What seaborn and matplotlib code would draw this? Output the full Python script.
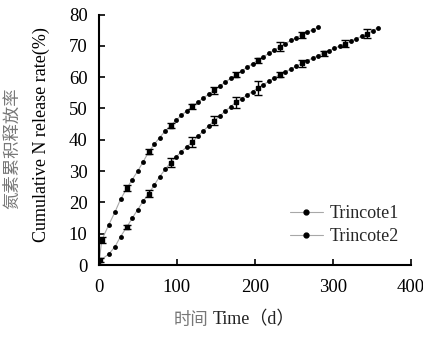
import matplotlib
matplotlib.use("Agg")
import matplotlib.pyplot as plt
from matplotlib.lines import Line2D
import pandas as pd
import seaborn as sns

# ---------------- data ----------------
series_names = ["Trincote1", "Trincote2"]

days1 = [0, 4, 13, 21, 28, 36, 43, 50, 57, 64, 71, 78, 85, 92, 99, 106, 113,
         120, 127, 134, 141, 148, 155, 162, 169, 176, 183, 190, 197, 204, 211,
         218, 225, 232, 239, 246, 253, 260, 267, 274, 281]
rate1 = [0, 8.0, 12.9, 17.0, 21.0, 24.5, 27.3, 30.0, 33.0, 36.1, 38.5, 40.7,
         42.7, 44.5, 46.2, 47.8, 49.3, 50.7, 52.0, 53.3, 54.6, 55.8, 57.1,
         58.4, 59.6, 60.8, 62.0, 63.1, 64.3, 65.4, 66.5, 67.6, 68.7, 69.7,
         70.7, 71.7, 72.6, 73.5, 74.3, 75.1, 75.9]

days2 = [0, 2, 13, 21, 28, 36, 43, 50, 57, 64, 71, 78, 85, 92, 99, 106, 113,
         120, 127, 134, 141, 148, 155, 162, 169, 176, 183, 190, 197, 204, 211,
         218, 225, 232, 239, 246, 253, 260, 267, 274, 281, 288, 295, 302, 309,
         316, 323, 330, 337, 344, 351, 358]
rate2 = [0, 1.5, 3.5, 5.9, 9.1, 12.1, 15.0, 17.7, 20.4, 22.8, 25.5, 28.2,
         30.5, 32.7, 34.5, 36.2, 37.8, 39.3, 41.1, 42.8, 44.5, 46.1, 47.6,
         49.1, 50.6, 52.0, 53.1, 54.3, 55.4, 56.5, 57.6, 58.7, 59.8, 60.8,
         61.7, 62.6, 63.5, 64.4, 65.2, 66.1, 66.9, 67.7, 68.5, 69.2, 70.0,
         70.7, 71.5, 72.3, 73.1, 73.9, 74.8, 75.8]

err_days1 = [4, 36, 64, 92, 120, 148, 176, 204, 232, 260]
err_size1 = [1.0, 1.0, 0.8, 0.8, 0.8, 1.1, 0.8, 0.8, 1.4, 1.0]

err_days2 = [2, 36, 64, 92, 120, 148, 176, 204, 232, 260, 288, 316, 344]
err_size2 = [0.7, 0.7, 1.0, 1.5, 1.5, 1.5, 1.8, 2.2, 0.8, 1.2, 0.8, 1.2, 1.4]

x_ticks = [0, 100, 200, 300, 400]
y_ticks = [0, 10, 20, 30, 40, 50, 60, 70, 80]

# ---------------- build table ----------------
df = pd.concat([
    pd.DataFrame({"day": days1, "rate": rate1, "series": series_names[0]}),
    pd.DataFrame({"day": days2, "rate": rate2, "series": series_names[1]}),
], ignore_index=True)

sns.set_style("ticks")
plt.rcParams["font.family"] = ["Liberation Serif", "Noto Sans CJK SC", "DejaVu Sans"]
plt.rcParams["font.size"] = 13

W, H = 423, 342
fig = plt.figure(figsize=(W / 100, H / 100), dpi=100)
x0, x1, y0, y1 = 98.7, 411, 265, 14.5
ax = fig.add_axes([x0 / W, 1 - y0 / H, (x1 - x0) / W, (y0 - y1) / H])

line_col = "#a8a8a8"
sns.lineplot(data=df, x="day", y="rate", hue="series", hue_order=series_names,
             palette=[line_col, line_col], linewidth=0.8, marker="o",
             markersize=3.5, markerfacecolor="black", markeredgecolor="black",
             markeredgewidth=0, legend=False, ax=ax, sort=False)

for days, rate, edays, esize in [(days1, rate1, err_days1, err_size1),
                                 (days2, rate2, err_days2, err_size2)]:
    lookup = dict(zip(days, rate))
    ax.errorbar(edays, [lookup[d] for d in edays], yerr=esize, fmt="s",
                markersize=3, color="black", ecolor="black", elinewidth=1.0,
                capsize=3.2, capthick=1.0, zorder=5)

ax.set_xlim(0, 400)
ax.set_ylim(0, 80)
ax.set_xticks(x_ticks)
ax.set_yticks(y_ticks)
ax.tick_params(axis="both", direction="in", length=4, width=1.2, colors="black",
               labelsize=13.5)
ax.tick_params(axis="x", pad=10)
ax.tick_params(axis="y", pad=8)
sns.despine(ax=ax)
for s in ["left", "bottom"]:
    ax.spines[s].set_linewidth(1.5)
    ax.spines[s].set_color("black")
ax.set_xlabel("")
ax.set_ylabel("")

# axis titles
fig.text(12 / W, 1 - 148 / H, "氮素累积释放率", rotation=90, ha="center",
         va="center", fontsize=12.5, color="#777777",
         family=["Noto Sans CJK SC", "DejaVu Sans"])
fig.text(41 / W, 1 - 135 / H, "Cumulative N release rate(%)", rotation=90,
         ha="center", va="center", fontsize=13, color="black")
fig.text(208 / W, 1 - 320 / H, "时间", ha="right", va="center",
         fontsize=12.5, color="#777777",
         family=["Noto Sans CJK SC", "DejaVu Sans"])
fig.text(213 / W, 1 - 320 / H, "Time（d）", ha="left", va="center",
         fontsize=13, color="#222222")

handles = [Line2D([], [], color=line_col, lw=0.8, marker="o", markersize=3.5,
                  markerfacecolor="black", markeredgecolor="black")
           for _ in series_names]
ax.legend(handles, series_names, loc="upper left",
          bbox_to_anchor=((290 - x0) / (x1 - x0), (y0 - 205) / (y0 - y1)),
          frameon=False, borderpad=0, borderaxespad=0, handlelength=1.8,
          handletextpad=0.4, labelspacing=0.35, fontsize=13)

fig.savefig("out.png", dpi=100)
